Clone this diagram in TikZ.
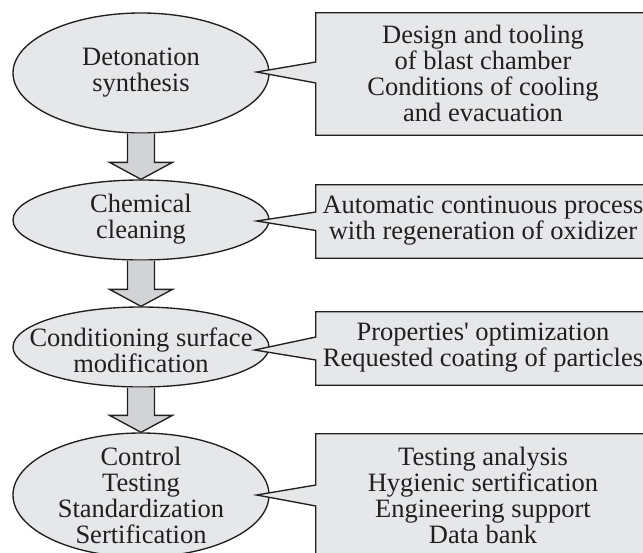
\documentclass[tikz,border=0pt]{standalone}
\usepackage{fontspec}
\setmainfont{Liberation Serif}[Ligatures=TeXOff]
\usetikzlibrary{shapes.geometric,calc}
\definecolor{shapefill}{HTML}{E6E7E8}
\definecolor{arrowfill}{HTML}{D1D3D4}
\definecolor{ink}{HTML}{231F20}
\begin{document}
\begin{tikzpicture}[x=1pt,y=-1pt,
  ell/.style={ellipse, draw=ink, line width=1.35pt, fill=shapefill, minimum width=256pt, inner sep=0pt},
  txt/.style={align=center, inner sep=0pt, text=ink, font=\fontsize{26.5}{26}\selectfont},
  boxnode/.style={rectangle, minimum width=334pt, minimum height=122pt, inner sep=0pt},
  outline/.style={draw=ink, line width=1.35pt, fill=shapefill, line join=miter},
  fatarrow/.style={draw=ink, line width=1.35pt, fill=arrowfill, line join=miter}]
\useasboundingbox (0,0) rectangle (643,552);
\clip (0,0) rectangle (643,552);

% ellipses
\node[ell, minimum height=120pt] (e1) at (141,73) {};
\node[ell, minimum height=80pt] (e2) at (141,220) {};
\node[ell, minimum height=80pt] (e3) at (141,347) {};
\node[ell, minimum height=124pt] (e4) at (141,495) {};

% boxes (size holders)
\node[boxnode] (b1) at (483,74) {};
\node[boxnode, minimum height=73pt] (b2) at (483,221.5) {};
\node[boxnode, minimum height=73pt] (b3) at (483,348.5) {};
\node[boxnode] (b4) at (483,495) {};

% pointer tips
\coordinate (p1) at ($(e1.east)+(-13,-1)$);
\coordinate (p2) at ($(e2.east)+(-13,1)$);
\coordinate (p3) at ($(e3.east)+(-15,3)$);
\coordinate (p4) at ($(e4.east)+(-13,0)$);

% callout outlines
\path[outline] (b1.north west) -- (b1.north east) -- (b1.south east) -- (b1.south west)
  -- ($(b1.west)+(0,9)$) -- (p1) -- ($(b1.west)+(0,-12)$) -- cycle;
\path[outline] (b2.north west) -- (b2.north east) -- (b2.south east) -- (b2.south west)
  -- ($(b2.west)+(0,9)$) -- (p2) -- ($(b2.west)+(0,-9.5)$) -- cycle;
\path[outline] (b3.north west) -- (b3.north east) -- (b3.south east) -- (b3.south west)
  -- ($(b3.west)+(0,11.5)$) -- (p3) -- ($(b3.west)+(0,-11.5)$) -- cycle;
\path[outline] (b4.north west) -- (b4.north east) -- (b4.south east) -- (b4.south west)
  -- ($(b4.west)+(0,11)$) -- (p4) -- ($(b4.west)+(0,-10)$) -- cycle;

% texts
\node[txt] (t1) at (e1) {Detonation\\synthesis};
\node[txt] (t2) at ($(e2)+(0,-1)$) {Chemical\\cleaning};
\node[txt] (t3) at ($(e3)+(0,3)$) {Conditioning surface\\modification};
\node[txt] (t4) at (e4) {Control\\Testing\\Standardization\\Sertification};

\node[txt] (bt1) at ($(b1)+(0,-1)$) {Design and tooling\\of blast chamber\\Conditions of cooling\\and evacuation};
\node[txt] (bt2) at ($(b2)+(0,-1)$) {Automatic continuous process\\with regeneration of oxidizer};
\node[txt] (bt3) at ($(b3)+(0,-1)$) {Properties' optimization\\Requested coating of particles};
\node[txt] (bt4) at (b4) {Testing analysis\\Hygienic sertification\\Engineering support\\Data bank};

% fat arrows
\path[fatarrow] ($(e1.south)+(-13.5,0)$) -- ($(e2.north)+(-13.5,-17)$) -- ($(e2.north)+(-31.5,-17)$)
  -- (e2.north) -- ($(e2.north)+(31.5,-17)$) -- ($(e2.north)+(13.5,-17)$) -- ($(e1.south)+(13.5,0)$);
\path[fatarrow] ($(e2.south)+(-13.5,0)$) -- ($(e3.north)+(-13.5,-17)$) -- ($(e3.north)+(-31.5,-17)$)
  -- (e3.north) -- ($(e3.north)+(31.5,-17)$) -- ($(e3.north)+(13.5,-17)$) -- ($(e2.south)+(13.5,0)$);
\path[fatarrow] ($(e3.south)+(-13.5,0)$) -- ($(e4.north)+(-13.5,-17)$) -- ($(e4.north)+(-31.5,-17)$)
  -- (e4.north) -- ($(e4.north)+(31.5,-17)$) -- ($(e4.north)+(13.5,-17)$) -- ($(e3.south)+(13.5,0)$);
\end{tikzpicture}
\end{document}
